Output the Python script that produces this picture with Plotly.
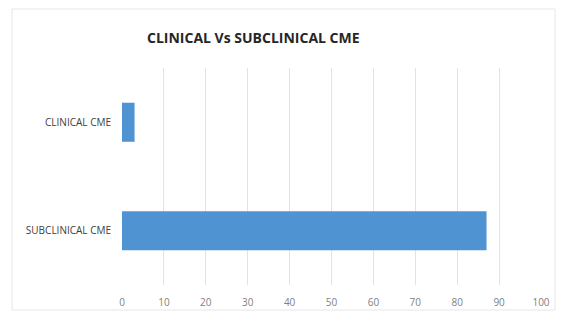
import plotly.graph_objects as go

categories = ["SUBCLINICAL CME", "CLINICAL CME"]
values = [87, 3]
x_ticks = [0, 10, 20, 30, 40, 50, 60, 70, 80, 90, 100]
title_text = "CLINICAL Vs SUBCLINICAL CME"

fig = go.Figure(go.Bar(
    x=values, y=categories, orientation="h",
    marker=dict(color="#5093d3", line=dict(width=0)),
))

OFF = 8  # page body margin
W, H = 566 - OFF, 318 - OFF
L, R, T, B = 122 - OFF, 25, 68 - OFF, 33
pw, ph = W - L - R, H - T - B

def px_x(p):
    return (p - OFF - L) / pw

def px_y(p):
    return (H - B - (p - OFF)) / ph

fig.update_layout(
    width=W, height=H,
    margin=dict(l=L, r=R, t=T, b=B, autoexpand=False),
    paper_bgcolor="white", plot_bgcolor="white",
    bargap=0.64,
    showlegend=False,
    font=dict(family="Open Sans, sans-serif", color="#595959", size=9),
    xaxis=dict(range=[0, 100], tickvals=x_ticks, showgrid=True, gridcolor="#e3e3e3",
               gridwidth=1, zeroline=False, showline=False, ticks="outside", automargin=False,
               ticklen=8, tickcolor="rgba(0,0,0,0)", tickfont=dict(size=10, color="#7f7f7f")),
    yaxis=dict(showgrid=False, zeroline=False, showline=False, ticks="outside", automargin=False,
               ticklen=8, tickcolor="rgba(0,0,0,0)",
               tickfont=dict(size=10, color="#404040", family="Liberation Sans Narrow, Open Sans, sans-serif")),
    shapes=[dict(type="rect", xref="paper", yref="paper",
                 x0=px_x(12), x1=px_x(555), y0=px_y(310), y1=px_y(9),
                 line=dict(color="#e6e6e6", width=1), layer="below")],
    annotations=[dict(text="<b>" + title_text + "</b>", xref="paper", yref="paper",
                      x=px_x(253), y=px_y(38), showarrow=False,
                      xanchor="center", yanchor="middle",
                      font=dict(size=14, color="#262626", family="Open Sans, sans-serif"))],
)

fig.write_html("out.html")
